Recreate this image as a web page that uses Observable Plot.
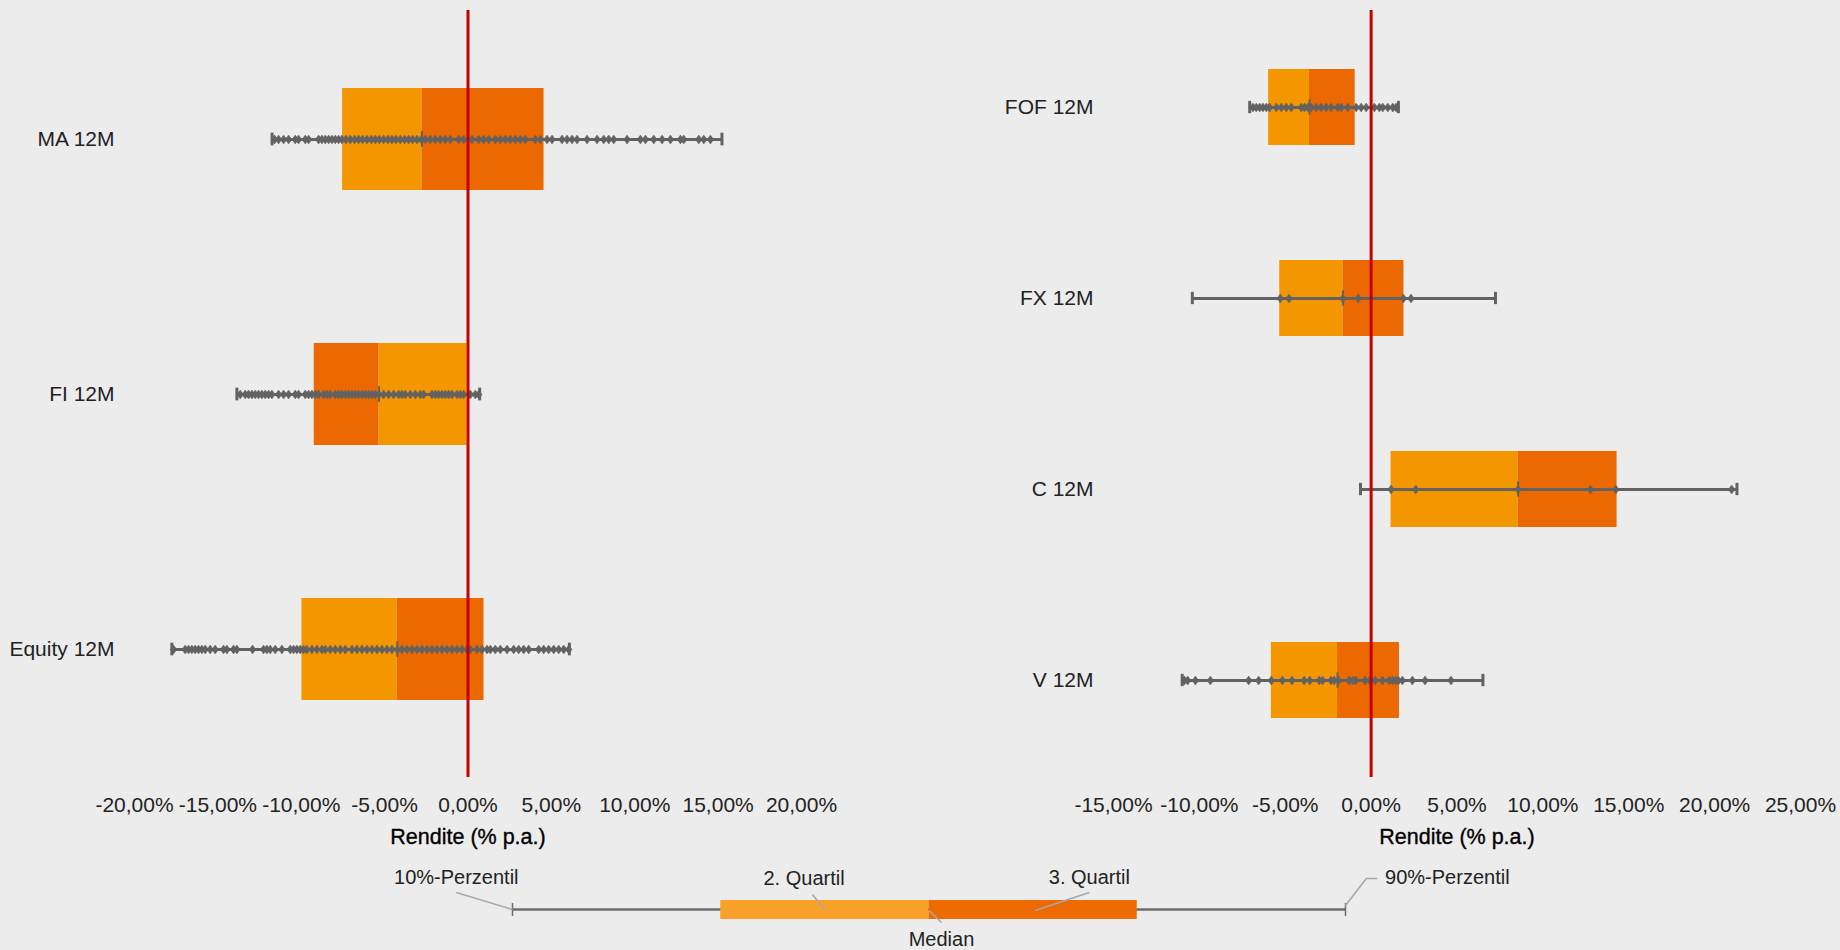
<!DOCTYPE html>
<html><head><meta charset="utf-8">
<script src="https://cdn.jsdelivr.net/npm/d3@7"></script>
<script src="https://cdn.jsdelivr.net/npm/@observablehq/plot@0.6"></script>
<style>
html,body{margin:0;padding:0;background:#ececec;}
#wrap{position:relative;width:1840px;height:950px;overflow:hidden;background:#ececec;font-family:"Liberation Sans",Arial,sans-serif;}
#wrap svg{background:transparent;max-width:none;}
.panel{position:absolute;top:0;}
</style></head><body>
<div id="wrap">
  <div id="left" class="panel" style="left:0px"></div>
  <div id="right" class="panel" style="left:920px"></div>
  <div id="legend" class="panel" style="left:0px;top:850px"></div>
</div>
<script>
// ---------- DATA ----------
const leftCategories = ["MA 12M", "FI 12M", "Equity 12M"];
const leftP10     = [-11.75, -13.86, -17.76];
const leftQ2Edge  = [-7.52, -0.06, -9.96];   // outer edge of the "2. Quartil" segment
const leftMedian  = [-2.76, -5.34, -4.24];
const leftQ3Edge  = [4.56, -9.22, 0.96];     // outer edge of the "3. Quartil" segment
const leftP90     = [15.23, 0.70, 6.08];

const rightCategories = ["FOF 12M", "FX 12M", "C 12M", "V 12M"];
const rightP10    = [-7.07, -10.41, -0.62, -11.0];
const rightQ2Edge = [-5.97, -5.32, 1.16, -5.81];
const rightMedian = [-3.59, -1.64, 8.56, -1.96];
const rightQ3Edge = [-0.93, 1.91, 14.32, 1.65];
const rightP90    = [1.59, 7.24, 21.3, 6.51];

const maPoints = [-11.6,-11.36,-11.06,-10.76,-10.36,-10.16,-9.76,-9.56,-8.96,-8.76,-8.56,-8.36,-8.16,-7.96,-7.76,-7.56,-7.32,-7.06,-6.8,-6.56,-6.32,-6.06,-5.8,-5.56,-5.32,-5.06,-4.8,-4.56,-4.32,-4.06,-3.8,-3.56,-3.32,-3.06,-2.8,-2.56,-2.26,-1.96,-1.66,-1.36,-1.06,-0.56,-0.26,0.24,0.64,0.94,1.24,1.64,1.94,2.24,2.54,2.84,3.14,3.44,4.04,4.34,4.74,5.04,5.64,5.94,6.24,6.54,7.14,7.74,8.14,8.44,8.74,9.54,10.34,10.64,11.14,11.64,12.14,12.74,12.94,13.84,14.14,14.54];
const fiPoints = [-13.66,-13.36,-13.16,-12.96,-12.76,-12.56,-12.36,-12.16,-11.96,-11.76,-11.36,-11.06,-10.76,-10.36,-10.16,-9.76,-9.56,-9.36,-9.16,-8.96,-8.66,-8.46,-8.26,-7.96,-7.76,-7.56,-7.36,-7.16,-6.96,-6.76,-6.56,-6.36,-6.16,-5.96,-5.76,-5.56,-5.34,-5.06,-4.76,-4.46,-4.16,-3.96,-3.76,-3.46,-3.16,-2.86,-2.66,-2.16,-1.96,-1.76,-1.56,-1.36,-1.16,-0.96,-0.66,-0.46,-0.26,0.14,0.44,0.64];
const equityPoints = [-17.66,-16.96,-16.76,-16.56,-16.36,-16.16,-15.96,-15.76,-15.46,-15.16,-14.66,-14.46,-14.06,-13.86,-12.92,-12.26,-12.06,-11.86,-11.56,-11.16,-10.66,-10.46,-10.26,-10.06,-9.86,-9.66,-9.36,-9.06,-8.76,-8.56,-8.26,-7.96,-7.66,-7.36,-6.96,-6.66,-6.36,-6.06,-5.76,-5.46,-5.16,-4.86,-4.56,-4.24,-3.96,-3.66,-3.36,-3.06,-2.76,-2.46,-2.16,-1.86,-1.56,-1.26,-0.96,-0.66,-0.36,-0.06,0.14,0.54,0.84,1.14,1.34,1.64,1.94,2.34,2.74,3.04,3.34,3.64,4.24,4.54,4.84,5.14,5.44,5.74,6.04];
const fofPoints = [-6.88,-6.69,-6.49,-6.30,-6.10,-5.91,-5.52,-5.23,-4.94,-4.65,-4.07,-3.88,-3.68,-3.49,-3.20,-2.91,-2.62,-2.33,-1.94,-1.74,-1.36,-0.87,-0.58,-0.29,0.19,0.48,0.68,0.97,1.26,1.45];
const fxPoints = [-5.29,-4.78,-1.64,-0.75,1.88,2.32];
const cPoints = [1.16,2.6,8.56,12.77,14.25,20.99];
const vPoints = [-10.87,-10.68,-10.23,-9.36,-7.13,-6.55,-5.81,-5.16,-4.61,-3.90,-3.57,-3.02,-2.83,-2.34,-2.15,-1.90,-1.28,-1.05,-0.89,-0.35,-0.08,0.23,0.66,1.05,1.24,1.43,1.59,1.82,2.40,3.14,4.65];

const leftTicks  = [-20,-15,-10,-5,0,5,10,15,20];
const rightTicks = [-15,-10,-5,0,5,10,15,20,25];

const legendLabels = ["10%-Perzentil", "2. Quartil", "Median", "3. Quartil", "90%-Perzentil"];

// ---------- STYLE ----------
const FONT = "'Liberation Sans', Arial, Helvetica, sans-serif";
const LIGHT = "#f39600";
const DARK = "#eb6900";
const GRAY = "#626262";
const RED = "#c60000";
const TEXT = "#222";

// diamond marker (slightly taller than wide)
const fatDiamond = {
  draw(ctx, size) {
    const h = Math.sqrt(size) * 0.78, w = h * 0.75;
    ctx.moveTo(0, -h); ctx.lineTo(w, 0); ctx.lineTo(0, h); ctx.lineTo(-w, 0); ctx.closePath();
  }
};

const fmt = d => (d < 0 ? "-" : "") + Math.abs(d).toFixed(2).replace(".", ",") + "%";

function panel(cats, p10, q2, med, q3, p90, pointSets, domain, ticks, marginLeft, marginRight) {
  const rows = cats.map((c, i) => ({cat: c, p10: p10[i], q2: q2[i], med: med[i], q3: q3[i], p90: p90[i]}));
  const pts = cats.flatMap((c, i) => pointSets[i].map(v => ({cat: c, v})));
  const height = 850, marginTop = 10, marginBottom = 73;
  const step = (height - marginTop - marginBottom) / cats.length;
  const bw = step * 0.4;
  const capInset = (bw - 13) / 2;
  const medInset = (bw - 16) / 2;
  return Plot.plot({
    width: 920, height, marginTop, marginBottom, marginLeft, marginRight,
    style: {fontFamily: FONT, fontSize: "21px", background: "transparent", color: TEXT},
    x: {domain, label: null},
    y: {type: "band", domain: cats, paddingInner: 0.6, paddingOuter: 0.3, align: 0.5, label: null},
    marks: [
      Plot.barX(rows, {y: "cat", x1: "q2", x2: "med", fill: LIGHT}),
      Plot.barX(rows, {y: "cat", x1: "med", x2: "q3", fill: DARK}),
      Plot.ruleY(rows, {y: "cat", x1: "p10", x2: "p90", stroke: GRAY, strokeWidth: 3}),
      Plot.tickX(rows, {y: "cat", x: "p10", stroke: GRAY, strokeWidth: 3, insetTop: capInset, insetBottom: capInset}),
      Plot.tickX(rows, {y: "cat", x: "p90", stroke: GRAY, strokeWidth: 3, insetTop: capInset, insetBottom: capInset}),
      Plot.tickX(rows, {y: "cat", x: "med", stroke: GRAY, strokeWidth: 2, insetTop: medInset, insetBottom: medInset}),
      Plot.dot(pts, {y: "cat", x: "v", symbol: fatDiamond, r: 3.2, fill: GRAY, stroke: GRAY, strokeWidth: 0.5}),
      Plot.ruleX([0], {stroke: RED, strokeWidth: 3}),
      Plot.axisX({ticks, tickFormat: fmt, tickSize: 0, tickPadding: 20, label: null, fill: TEXT}),
      Plot.axisY({tickSize: 0, tickPadding: 20, label: null, fill: TEXT}),
      Plot.text(["Rendite (% p.a.)"], {text: d => d, frameAnchor: "bottom", dy: 66, fontSize: 21.5,
        fill: "#000", stroke: "#000", strokeWidth: 0.35})
    ]
  });
}

document.getElementById("left").append(
  panel(leftCategories, leftP10, leftQ2Edge, leftMedian, leftQ3Edge, leftP90,
        [maPoints, fiPoints, equityPoints], [-20, 20], leftTicks, 134, 119)
);
document.getElementById("right").append(
  panel(rightCategories, rightP10, rightQ2Edge, rightMedian, rightQ3Edge, rightP90,
        [fofPoints, fxPoints, cPoints, vPoints], [-15, 25], rightTicks, 193, 40)
);

// ---------- LEGEND (schematic: stops 0..4 = P10, Q1, Median, Q3, P90) ----------
const legendStops = [0, 1, 2, 3, 4];
const LLIGHT = "#faa12a", LDARK = "#ed6b00", LEAD = "#a8a8a8";
const legendText = [
  {t: legendLabels[0], x: -0.27, y: 27, a: "middle"},
  {t: legendLabels[1], x: 1.40, y: 28, a: "middle"},
  {t: legendLabels[2], x: 2.06, y: 89, a: "middle"},
  {t: legendLabels[3], x: 2.77, y: 27, a: "middle"},
  {t: legendLabels[4], x: 4.19, y: 27, a: "start"}
];
const leaders = [
  {x1: -0.27, y1: 42, x2: 0, y2: 59},
  {x1: 1.44, y1: 44, x2: 1.5, y2: 59},
  {x1: 2.0, y1: 60, x2: 2.06, y2: 72},
  {x1: 2.77, y1: 42, x2: 2.51, y2: 60}
];
const leader90 = [{x: 4.0, y: 55}, {x: 4.1, y: 28}, {x: 4.15, y: 28}];

document.getElementById("legend").append(Plot.plot({
  width: 1840, height: 100, margin: 0,
  style: {fontFamily: FONT, fontSize: "20px", background: "transparent", color: TEXT},
  x: {domain: [0, 4], range: [512, 1345], axis: null},
  y: {domain: [0, 100], range: [0, 100], axis: null},
  marks: [
    Plot.ruleY([59], {x1: legendStops[0], x2: legendStops[4], stroke: "#6e6e6e", strokeWidth: 2.5}),
    Plot.ruleX([legendStops[0], legendStops[4]], {y1: 53, y2: 66, stroke: "#6e6e6e", strokeWidth: 1.5}),
    Plot.rect([0], {x1: legendStops[1], x2: legendStops[2], y1: 50, y2: 69, fill: LLIGHT}),
    Plot.rect([0], {x1: legendStops[2], x2: legendStops[3], y1: 50, y2: 69, fill: LDARK}),
    Plot.link(leaders, {x1: "x1", y1: "y1", x2: "x2", y2: "y2", stroke: LEAD, strokeWidth: 1.6}),
    Plot.line(leader90, {x: "x", y: "y", stroke: LEAD, strokeWidth: 1.6}),
    Plot.text(legendText, {x: "x", y: "y", text: "t", textAnchor: "start", fill: TEXT, fontSize: 20,
      filter: d => d.a === "start"}),
    Plot.text(legendText, {x: "x", y: "y", text: "t", textAnchor: "middle", fill: TEXT, fontSize: 20,
      filter: d => d.a === "middle"})
  ]
}));
</script>
</body></html>
